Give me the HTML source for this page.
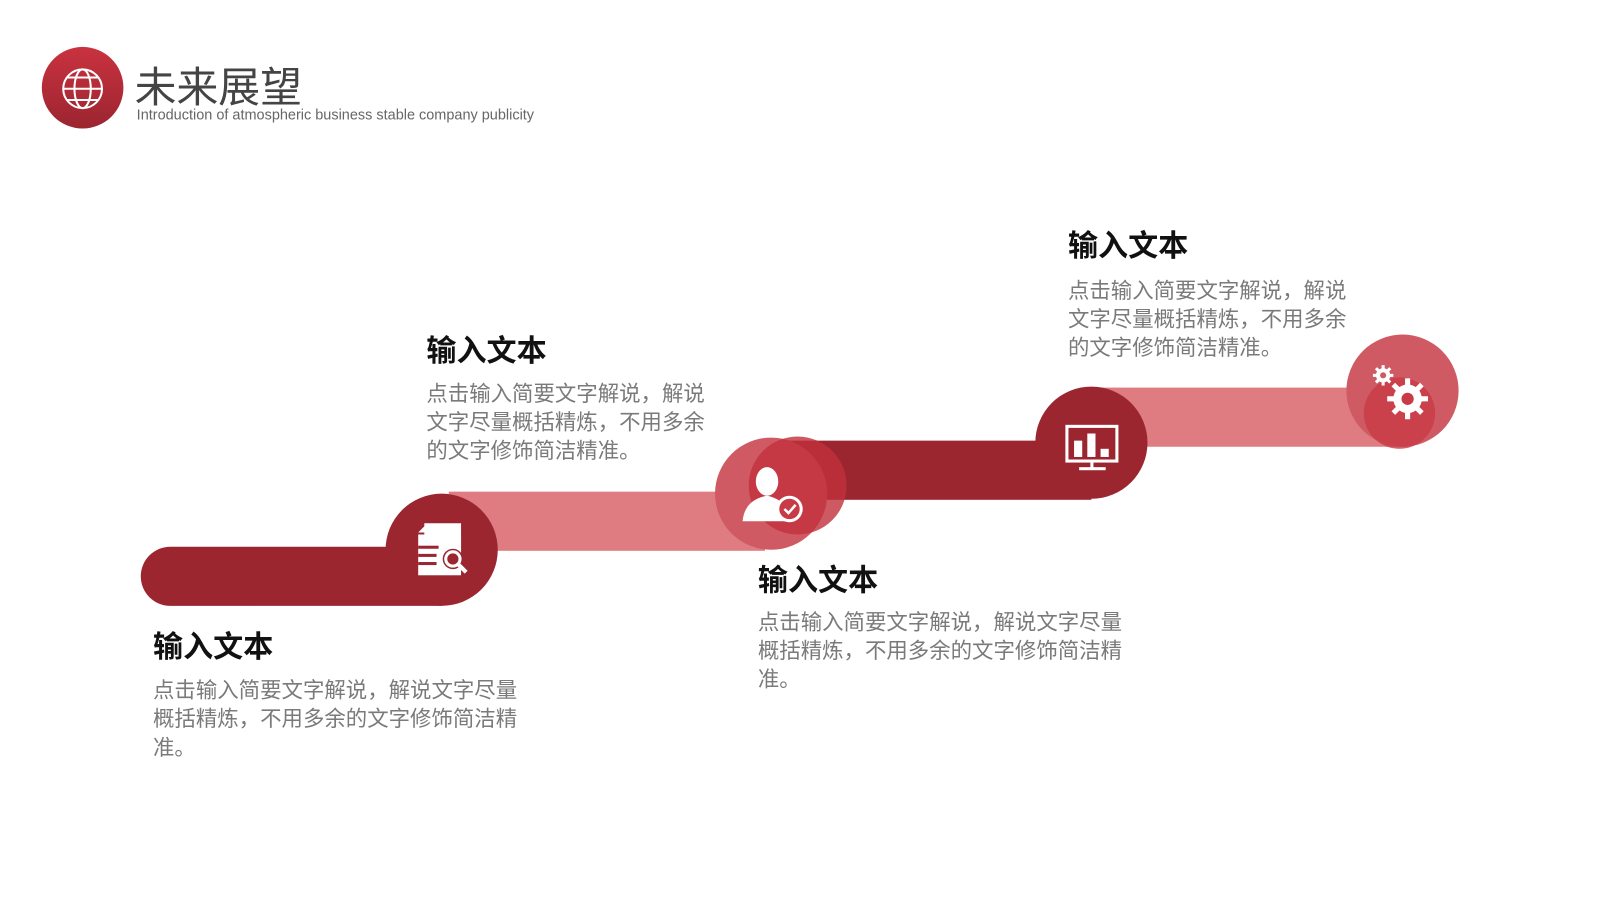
<!DOCTYPE html>
<html><head><meta charset="utf-8"><style>
body{margin:0;width:1600px;height:900px;background:#fff;position:relative;overflow:hidden;font-family:"Liberation Sans","Noto Sans CJK SC",sans-serif}
#w{position:absolute;left:0;top:0;width:1600px;height:900px;transform:scale(1.02);transform-origin:0 0}
.t{position:absolute;font-size:29.5px;font-weight:bold;color:#111}
.b{position:absolute;font-size:21px;line-height:28px;color:#7a7a7a}
</style></head><body><div id="w">
<svg width="1600" height="900" style="position:absolute;left:0;top:0">
<defs><linearGradient id="g" x1="0" y1="0" x2="0" y2="1"><stop offset="0" stop-color="#c9323f"/><stop offset="1" stop-color="#9b2530"/></linearGradient></defs>
<circle cx="81" cy="86" r="40" fill="url(#g)"/>
<g fill="none" stroke="#fff" stroke-width="2"><circle cx="81" cy="87" r="19"/><ellipse cx="81" cy="87" rx="8" ry="19"/><line x1="62" y1="87" x2="100" y2="87"/><path d="M66 76 H96 M66 98 H96"/></g>
<path d="M167 536 H433 V594 H167 A29 29 0 0 1 167 536Z" fill="#9b2630"/>
<rect x="440" y="482" width="310" height="58" fill="#de7c82"/>
<circle cx="433" cy="539" r="55" fill="#9b2630"/>
<rect x="756" y="432" width="314" height="58" fill="#9b2630"/>
<circle cx="756" cy="484" r="55" fill="#d05a63"/>
<circle cx="782" cy="476" r="48" fill="#c0313c" opacity=".8"/>
<rect x="1070" y="380" width="310" height="58" fill="#de7c82"/>
<circle cx="1070" cy="434" r="55" fill="#9b2630"/>
<circle cx="1375" cy="383" r="55" fill="#d05a63"/>
<circle cx="1372" cy="405" r="35" fill="#c83a45" opacity=".8"/>
<g fill="#fff"><path d="M416 513 H452 V540 H416Z M410 522 L419 513 V522Z"/><rect x="410" y="524" width="42" height="40"/></g>
<g fill="#9b2630"><rect x="410" y="535" width="20" height="3"/><rect x="410" y="543" width="18" height="3"/><rect x="410" y="551" width="18" height="3"/><circle cx="444" cy="548" r="10"/></g>
<circle cx="444" cy="548" r="7" fill="none" stroke="#fff" stroke-width="3"/><line x1="449" y1="553" x2="457" y2="561" stroke="#fff" stroke-width="4"/>
<g fill="#fff"><ellipse cx="752" cy="472" rx="11" ry="14"/><path d="M728 511 Q730 490 752 486 Q772 490 778 511Z"/></g>
<circle cx="774" cy="499" r="13" fill="#fff"/><circle cx="774" cy="499" r="10" fill="#c83a45"/>
<path d="M769 499 L773 503 L780 495" fill="none" stroke="#fff" stroke-width="2.5"/>
<rect x="1046" y="418" width="49" height="34" fill="none" stroke="#fff" stroke-width="3"/>
<g fill="#fff"><rect x="1053" y="432" width="8" height="16"/><rect x="1066" y="425" width="8" height="23"/><rect x="1079" y="440" width="8" height="8"/><rect x="1069" y="452" width="3" height="7"/><rect x="1058" y="458" width="26" height="3"/></g>
<g fill="#fff"><circle cx="1380" cy="391" r="14"/><circle cx="1356" cy="368" r="7"/></g>
<g stroke="#fff" stroke-width="5"><path d="M1380 371V411M1360 391H1400M1366 377L1394 405M1394 377L1366 405"/></g>
<g stroke="#fff" stroke-width="3"><path d="M1356 358V378M1346 368H1366M1349 361L1363 375M1363 361L1349 375"/></g>
<circle cx="1380" cy="391" r="6" fill="#c83a45"/><circle cx="1356" cy="368" r="3" fill="#d05a63"/>
</svg>
<div style="position:absolute;left:132px;top:52px;font-size:41px;color:#444">未来展望</div>
<div style="position:absolute;left:134px;top:105px;font-size:14.2px;color:#666">Introduction of atmospheric business stable company publicity</div>
<div class="t" style="left:150px;top:611px">输入文本</div>
<div class="b" style="left:150px;top:664px;width:362px">点击输入简要文字解说，解说文字尽量概括精炼，不用多余的文字修饰简洁精准。</div>
<div class="t" style="left:418px;top:321px">输入文本</div>
<div class="b" style="left:418px;top:373px;width:280px">点击输入简要文字解说，解说文字尽量概括精炼，不用多余的文字修饰简洁精准。</div>
<div class="t" style="left:743px;top:546px">输入文本</div>
<div class="b" style="left:743px;top:597px;width:362px">点击输入简要文字解说，解说文字尽量概括精炼，不用多余的文字修饰简洁精准。</div>
<div class="t" style="left:1047px;top:218px">输入文本</div>
<div class="b" style="left:1047px;top:272px;width:280px">点击输入简要文字解说，解说文字尽量概括精炼，不用多余的文字修饰简洁精准。</div>
</div></body></html>
